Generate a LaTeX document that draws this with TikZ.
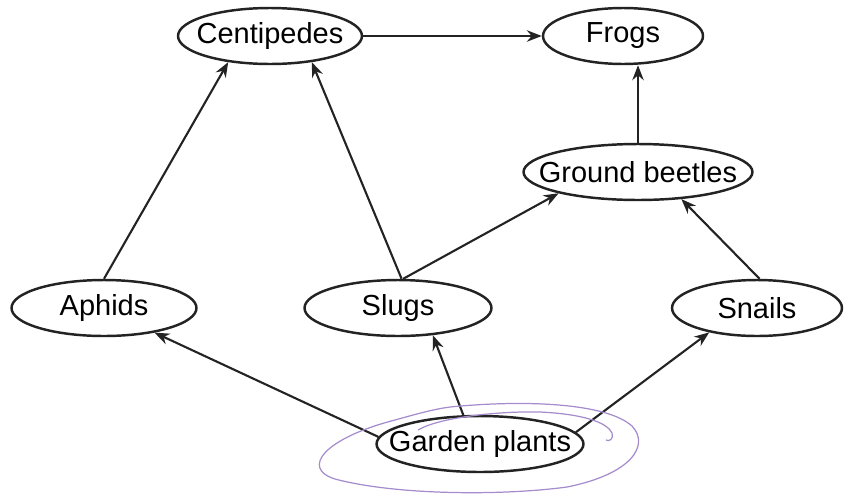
\documentclass[tikz,border=0pt]{standalone}
\usepackage{fontspec}
\setmainfont{Liberation Sans}
\usepackage{xcolor}
\usetikzlibrary{shapes,arrows.meta}
\definecolor{penmark}{RGB}{165,140,205}
\definecolor{ink}{RGB}{35,35,35}

\begin{document}
\begin{tikzpicture}[
    x=0.02cm, y=-0.02cm,
    font=\fontsize{16.5}{19}\selectfont,
    org/.style={ellipse, draw=ink, line width=1.4pt, inner sep=0pt, minimum height=1.12cm},
    arrow/.style={-{Stealth[length=8.5pt, width=6.5pt]}, draw=ink, line width=1.2pt},
    pen/.style={draw=penmark, line width=0.7pt}
]
\useasboundingbox (0,0) rectangle (847,494);

% Predators
\node[org, minimum width=3.68cm, label=center:Centipedes] at (270,36) (cent) {};
\node[org, minimum width=3.2cm, label=center:Frogs] at (623,36) (frogs) {};
\node[org, minimum width=4.58cm, label=center:Ground beetles] at (638,172) (beetles) {};

% Pests
\node[org, minimum width=3.7cm, label=center:Aphids] at (104,308) (aphids) {};
\node[org, minimum width=3.74cm, label=center:Slugs] at (398,308) (slugs) {};
\node[org, minimum width=3.4cm, label=center:Snails] at (757,308) (snails) {};

% Plants
\node[org, minimum width=4.14cm, label=center:Garden plants] at (480,444) (garden) {};

% Arrows
\draw[arrow] (cent) -- (frogs);
\draw[arrow] (aphids.north) -- (cent.212);
\draw[arrow] (slugs.83) -- (cent.328);
\draw[arrow] (slugs.80) -- (beetles.195);
\draw[arrow] (beetles.north) -- (beetles.north |- frogs.south);
\draw[arrow] (snails.85) -- (beetles.328);
\draw[arrow] (garden.176) -- (aphids.334);
\draw[arrow] (garden.120) -- (slugs.322);
\draw[arrow] (garden.7) -- (snails.207);

% pen mark round the plants
\draw[pen] (450,407) .. controls (520,400) and (605,402) .. (632,426)
    .. controls (650,445) and (632,474) .. (567,487)
    .. controls (500,496) and (395,495) .. (335,479)
    .. controls (300,468) and (325,438) .. (395,420)
    .. controls (420,413) and (435,409) .. (450,407);
\draw[pen] (418,430) .. controls (440,417) and (500,411) .. (540,412)
    .. controls (582,414) and (607,422) .. (612,433)
    .. controls (614,439) and (609,442) .. (606,440);

\end{tikzpicture}
\end{document}
